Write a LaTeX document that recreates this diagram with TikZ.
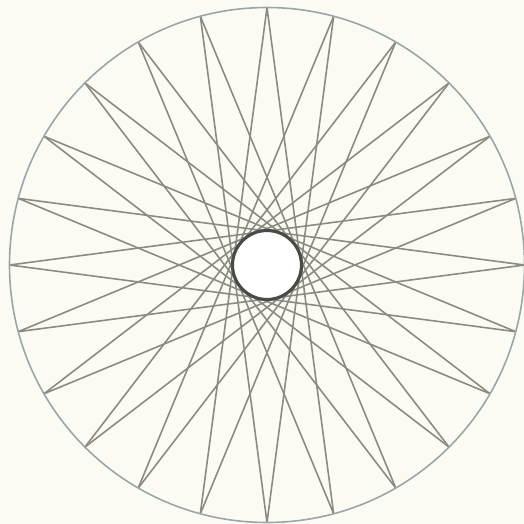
\documentclass[tikz,border=0pt]{standalone}
\definecolor{bg}{HTML}{FBFBF4}
\definecolor{chordgray}{HTML}{8A8A82}
\definecolor{rimgray}{HTML}{9AA6A6}
\definecolor{hubgray}{HTML}{4A4A46}
\begin{document}
\begin{tikzpicture}[
  chord/.style={draw=chordgray, line width=0.45pt},
  rim/.style={draw=rimgray, line width=0.45pt},
  hub/.style={draw=hubgray, line width=0.9pt, fill=white}]
\fill[bg] (0,0) rectangle (5.24,5.24);
\useasboundingbox (0,0) rectangle (5.24,5.24);
\coordinate (c) at (2.67,2.59);
\foreach \i in {0,...,23}{
  \coordinate (p\i) at ([shift={({90+15*\i}:2.575)}]c);
}
\foreach \i in {0,...,23}{
  \pgfmathtruncatemacro\j{mod(\i+11,24)}
  \draw[chord] (p\i) -- (p\j);
}
\draw[rim] (c) circle (2.575);
\draw[hub] (c) circle (0.345);
\end{tikzpicture}
\end{document}
